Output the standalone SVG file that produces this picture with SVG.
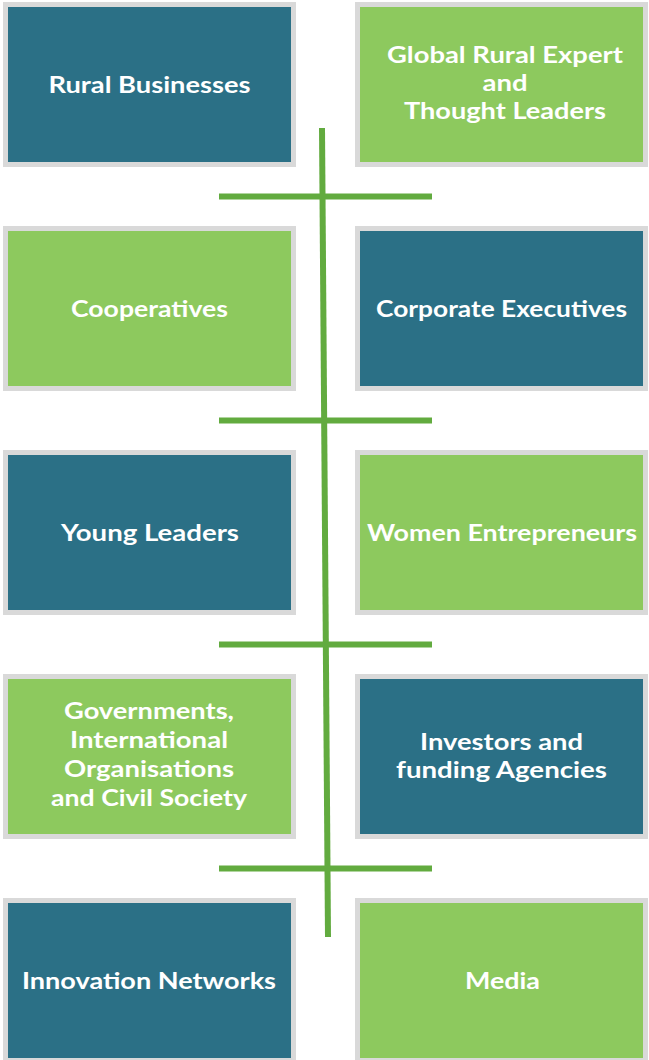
<svg xmlns="http://www.w3.org/2000/svg" width="649" height="1060" viewBox="0 0 649 1060">
<style>
.box{stroke:#d9d9d9;stroke-width:5}
.teal{fill:#2b7086}
.green{fill:#8dc95e}
.t{fill:#ffffff;font-family:Lato,"Open Sans","DejaVu Sans",sans-serif;font-weight:700;font-size:23px;text-anchor:middle}
.ln{stroke:#62ab3f;stroke-width:6;fill:none}
</style>
<rect width="649" height="1060" fill="#ffffff"/>
<g id="n1"><rect class="box teal" x="5.5" y="4.5" width="288" height="160"/><text class="t" x="149.5" y="93" textLength="202" lengthAdjust="spacingAndGlyphs">Rural Businesses</text></g>
<g id="n2"><rect class="box green" x="357.5" y="4.5" width="288" height="160"/><text class="t" x="505" y="63" textLength="236" lengthAdjust="spacingAndGlyphs">Global Rural Expert</text><text class="t" x="505" y="91" textLength="45" lengthAdjust="spacingAndGlyphs">and</text><text class="t" x="505" y="119" textLength="202" lengthAdjust="spacingAndGlyphs">Thought Leaders</text></g>
<g id="n3"><rect class="box green" x="5.5" y="228.5" width="288" height="160"/><text class="t" x="149.5" y="317" textLength="157" lengthAdjust="spacingAndGlyphs">Cooperatives</text></g>
<g id="n4"><rect class="box teal" x="357.5" y="228.5" width="288" height="160"/><text class="t" x="501.5" y="317" textLength="251" lengthAdjust="spacingAndGlyphs">Corporate Executives</text></g>
<g id="n5"><rect class="box teal" x="5.5" y="452.5" width="288" height="160"/><text class="t" x="150" y="541" textLength="178" lengthAdjust="spacingAndGlyphs">Young Leaders</text></g>
<g id="n6"><rect class="box green" x="357.5" y="452.5" width="288" height="160"/><text class="t" x="502" y="541" textLength="270" lengthAdjust="spacingAndGlyphs">Women Entrepreneurs</text></g>
<g id="n7"><rect class="box green" x="5.5" y="676.5" width="288" height="160"/><text class="t" x="149" y="719" textLength="170" lengthAdjust="spacingAndGlyphs">Governments,</text><text class="t" x="149" y="748" textLength="158" lengthAdjust="spacingAndGlyphs">International</text><text class="t" x="149" y="777" textLength="170" lengthAdjust="spacingAndGlyphs">Organisations</text><text class="t" x="149" y="806" textLength="196" lengthAdjust="spacingAndGlyphs">and Civil Society</text></g>
<g id="n8"><rect class="box teal" x="357.5" y="676.5" width="288" height="160"/><text class="t" x="501.5" y="750" textLength="163" lengthAdjust="spacingAndGlyphs">Investors and</text><text class="t" x="501.5" y="778" textLength="211" lengthAdjust="spacingAndGlyphs">funding Agencies</text></g>
<g id="n9"><rect class="box teal" x="5.5" y="900.5" width="288" height="160"/><text class="t" x="149" y="989" textLength="254" lengthAdjust="spacingAndGlyphs">Innovation Networks</text></g>
<g id="n10"><rect class="box green" x="357.5" y="900.5" width="288" height="160"/><text class="t" x="502.5" y="989" textLength="75" lengthAdjust="spacingAndGlyphs">Media</text></g>
<g id="connectors">
<line class="ln" x1="322" y1="128" x2="328" y2="937"/>
<line class="ln" x1="219" y1="196.5" x2="432" y2="196.5"/>
<line class="ln" x1="219" y1="420.5" x2="432" y2="420.5"/>
<line class="ln" x1="219" y1="644.5" x2="432" y2="644.5"/>
<line class="ln" x1="219" y1="868.5" x2="432" y2="868.5"/>
</g>
</svg>
